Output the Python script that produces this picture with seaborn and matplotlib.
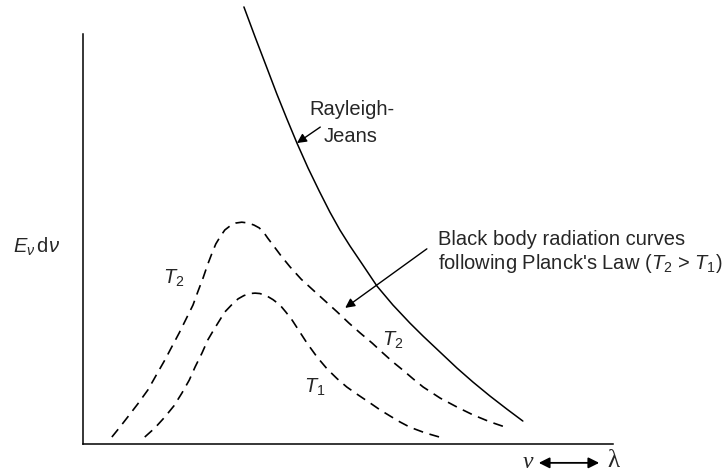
import matplotlib
matplotlib.use("Agg")
import matplotlib.pyplot as plt
import seaborn as sns

# Rayleigh-Jeans curve (arbitrary units: frequency/wavelength axis vs. energy density)
rj_x = [3.04, 3.25, 3.46, 3.66, 3.85, 4.04, 4.25, 4.46, 4.66, 4.85, 5.04,
        5.27, 5.55, 5.85, 6.17, 6.42, 6.74, 7.06, 7.36, 7.68, 8.00, 8.30]
rj_y = [10.66, 9.93, 9.22, 8.54, 7.93, 7.34, 6.73, 6.17, 5.66, 5.22, 4.83,
        4.39, 3.85, 3.39, 2.95, 2.63, 2.24, 1.85, 1.51, 1.17, 0.85, 0.56]

# Planck curve at the higher temperature T2
t2_x = [0.55, 0.70, 0.85, 1.04, 1.23, 1.40, 1.55, 1.68, 1.82, 1.95, 2.08, 2.17,
        2.27, 2.36, 2.44, 2.51, 2.59, 2.68, 2.78, 2.89, 3.00, 3.12, 3.23, 3.33,
        3.42, 3.49, 3.59, 3.74, 3.91, 4.12, 4.34, 4.57, 4.80, 5.02, 5.23, 5.46,
        5.66, 5.85, 6.04, 6.23, 6.42, 6.74, 7.06, 7.36, 7.68, 8.02]
t2_y = [0.17, 0.41, 0.66, 0.98, 1.32, 1.71, 2.05, 2.37, 2.71, 3.05, 3.39, 3.71,
        4.05, 4.39, 4.66, 4.88, 5.05, 5.22, 5.32, 5.39, 5.41, 5.39, 5.34, 5.27,
        5.15, 5.02, 4.85, 4.59, 4.32, 4.02, 3.76, 3.49, 3.22, 2.95, 2.71, 2.46,
        2.22, 2.00, 1.80, 1.59, 1.39, 1.12, 0.90, 0.71, 0.54, 0.39]

# Planck curve at the lower temperature T1
t1_x = [1.17, 1.36, 1.55, 1.72, 1.87, 2.01, 2.12, 2.25, 2.36, 2.46, 2.55, 2.68,
        2.82, 2.93, 3.04, 3.16, 3.25, 3.34, 3.46, 3.59, 3.72, 3.83, 3.95, 4.08,
        4.23, 4.42, 4.61, 4.80, 4.98, 5.19, 5.42, 5.61, 5.80, 5.98, 6.17, 6.46,
        6.78]
t1_y = [0.17, 0.39, 0.66, 0.93, 1.24, 1.56, 1.88, 2.22, 2.54, 2.76, 2.95, 3.22,
        3.41, 3.54, 3.62, 3.67, 3.68, 3.67, 3.62, 3.52, 3.39, 3.22, 3.02, 2.76,
        2.46, 2.12, 1.83, 1.59, 1.39, 1.20, 1.00, 0.83, 0.68, 0.54, 0.41, 0.27,
        0.15]

y_label = r"$E_\nu\,\mathrm{d}\nu$"
rj_label = ["Rayleigh-", "Jeans"]
planck_label = ["Black body radiation curves",
                r"following Planck's Law ($T_2$ > $T_1$)"]
curve_labels = {"T2_left": r"$T_2$", "T2_right": r"$T_2$", "T1": r"$T_1$"}

sns.set_theme(style="white")
plt.rcParams["font.family"] = ["Liberation Sans", "DejaVu Sans"]
plt.rcParams["mathtext.fontset"] = "custom"
plt.rcParams["mathtext.rm"] = "Liberation Sans"
plt.rcParams["mathtext.it"] = "Liberation Sans:italic"
plt.rcParams["mathtext.bf"] = "Liberation Sans:bold"

fig = plt.figure(figsize=(7.28, 4.73), dpi=100)
ax = fig.add_axes([82.7 / 728, 29 / 473, 530.3 / 728, 444 / 473])
ax.set_xlim(0, 10)
ax.set_ylim(0, 444 / 41)

dash = (0, (6, 4))
sns.lineplot(x=rj_x, y=rj_y, ax=ax, color="black", lw=1.1,
             sort=False, estimator=None, clip_on=False)
sns.lineplot(x=t2_x, y=t2_y, ax=ax, color="black", lw=1.2, linestyle=dash,
             sort=False, estimator=None)
sns.lineplot(x=t1_x, y=t1_y, ax=ax, color="black", lw=1.2, linestyle=dash,
             sort=False, estimator=None)

# axes: only left and bottom, no ticks
for side in ("top", "right"):
    ax.spines[side].set_visible(False)
for side in ("left", "bottom"):
    ax.spines[side].set_color("black")
    ax.spines[side].set_linewidth(1.1)
ax.spines["left"].set_bounds(0, 10)
ax.set_xticks([])
ax.set_yticks([])

fs = 14.5
ax.text(-0.88, 4.80, y_label, fontsize=fs, ha="center", va="center")

ax.text(5.08, 8.15, rj_label[0], fontsize=fs, ha="center", va="center")
ax.text(5.06, 7.51, rj_label[1], fontsize=fs, ha="center", va="center")
ax.annotate("", xy=(4.04, 7.34), xytext=(4.48, 7.73),
            arrowprops=dict(arrowstyle="-|>", color="black", lw=1.0,
                            mutation_scale=14, shrinkA=0, shrinkB=0))

ax.text(6.70, 4.98, planck_label[0], fontsize=fs, ha="left", va="center")
ax.text(6.70, 4.41, planck_label[1], fontsize=fs, ha="left", va="center")
ax.annotate("", xy=(4.95, 3.32), xytext=(6.49, 4.76),
            arrowprops=dict(arrowstyle="-|>", color="black", lw=1.0,
                            mutation_scale=14, shrinkA=0, shrinkB=0))

ax.text(1.72, 4.05, curve_labels["T2_left"], fontsize=fs, ha="center", va="center")
ax.text(5.85, 2.54, curve_labels["T2_right"], fontsize=fs, ha="center", va="center")
ax.text(4.38, 1.37, curve_labels["T1"], fontsize=fs, ha="center", va="center")

# frequency <-> wavelength marker under the horizontal axis
ax.text(8.40, -0.46, "ν", family="Liberation Serif", style="italic",
        fontsize=17, ha="center", va="center")
ax.text(10.0, -0.42, "λ", family="Liberation Serif",
        fontsize=18, ha="center", va="center")
ax.annotate("", xy=(9.74, -0.46), xytext=(8.60, -0.46), annotation_clip=False,
            arrowprops=dict(arrowstyle="<|-|>", color="black", lw=1.3,
                            mutation_scale=16, shrinkA=0, shrinkB=0))

fig.savefig("out.png", dpi=100)
